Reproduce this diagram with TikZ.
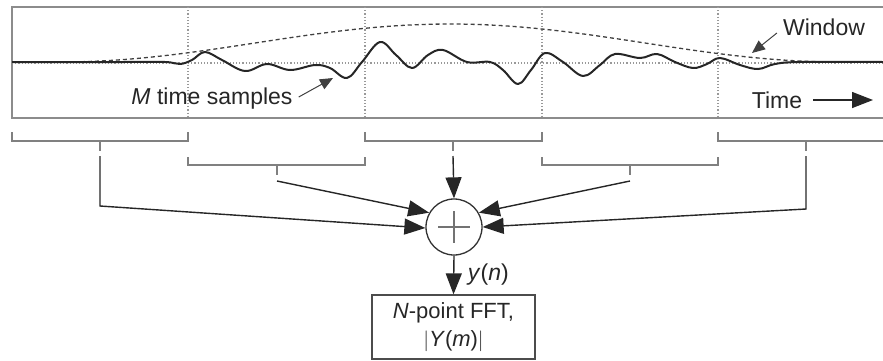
\documentclass[tikz,border=0pt]{standalone}
\usepackage{fontspec}
\setmainfont{Liberation Sans}
\usetikzlibrary{arrows.meta,positioning,calc}

\begin{document}
\begin{tikzpicture}[
    x=1pt, y=-1pt,
    % --- Line styles ---
    frame/.style={draw=black!45, line width=1.6pt},
    guide/.style={draw=black!40, dotted, line width=1.2pt},
    bracket/.style={draw=black!50, line width=1.5pt},
    signal/.style={draw=black!85, line width=2pt, line join=round},
    window/.style={draw=black!75, dash pattern=on 4pt off 3pt, line width=1.3pt},
    % --- Arrow styles ---
    arr/.style={-{Triangle[length=21pt, width=16pt]}, line width=1.4pt, draw=black!85},
    pointer/.style={-{Triangle[length=13pt, width=11pt]}, line width=1pt, draw=black!75},
    % --- Node styles ---
    summer/.style={draw=black!80, circle, line width=1.3pt, minimum size=56pt, inner sep=0pt},
    fftbox/.style={draw=black!70, line width=1.3pt, minimum width=163pt, minimum height=64pt,
                   align=center, inner sep=0pt, font=\fontsize{22}{28}\selectfont, text=black!85},
    label/.style={font=\fontsize{23}{25}\selectfont, inner sep=0pt, text=black!85},
]
\useasboundingbox (0,0) rectangle (883,360);

% === Time record with the window ===
\draw[frame] (12,7) rectangle (895,118);
\draw[guide] (12,63) -- (883,63);
\foreach \x in {188,365,542,718}
  \draw[guide] (\x,7) -- (\x,118);

% Hanning-like window
\draw[window] plot[domain=60:840, samples=70] (\x, {62-38*sin(0.23077*(\x-60))^2});

% Time samples
\draw[signal] plot[smooth, tension=0.6] coordinates {
  (12,62) (60,62) (120,62) (165,62) (180,64) (192,60) (205,52) (222,60)
  (245,71) (267,64) (290,70) (315,65) (330,68) (347,78) (362,62) (380,42)
  (396,55) (412,68) (428,55) (443,50) (467,62) (490,62) (503,70) (518,84)
  (531,70) (545,53) (563,62) (583,76) (600,65) (615,54) (640,58) (657,54)
  (675,62) (693,68) (707,64) (720,58) (740,65) (758,69) (775,64) (800,62)
  (883,62)};

% --- Annotations ---
\node[label] (msamp) at (212,99) {\textit{M} time samples};
\coordinate (msamptip) at (333,78);
\draw[pointer] (msamp.east) ++(6,-2) -- (msamptip);

\node[label] (win) at (824,27) {Window};
\coordinate (wintip) at (752,53);
\draw[pointer] (win.west) ++(-6,6) -- (wintip);

\node[label] (time) at (777,100) {Time};
\coordinate (timetip) at (873,100);
\draw[arr] (time.east) ++(11,0) -- (timetip);

% === Overlapping segments ===
\foreach \a/\b/\m/\n in {12/188/100/1, 365/542/453/3, 718/895/806/5} {
  \draw[bracket] (\a,132) -- (\a,141) -- (\b,141) -- (\b,132);
  \draw[bracket] (\m,141) -- (\m,151);
  \coordinate (tap\n) at (\m,156);
}
\foreach \a/\b/\m/\n in {188/365/277/2, 542/718/630/4} {
  \draw[bracket] (\a,157) -- (\a,165) -- (\b,165) -- (\b,157);
  \draw[bracket] (\m,165) -- (\m,175);
  \coordinate (tap\n) at (\m,181);
}

% === Summation and FFT ===
\node[summer] (sum) at (454,227) {};
\draw[black!55, line width=1.2pt] (sum.center) ++(-16,0) -- ++(32,0)
                                  (sum.center) ++(0,-16) -- ++(0,32);

\coordinate (bend1) at (100,206);
\coordinate (bend5) at (806,209);
\draw[arr] (tap1) -- (bend1) -- (sum.182);
\draw[arr] (tap2) -- (sum.150);
\draw[arr] (tap3) -- (sum.north);
\draw[arr] (tap4) -- (sum.30);
\draw[arr] (tap5) -- (bend5) -- (sum.0);

\node[fftbox] (fft) at (453.5,327) {\textit{N}-point FFT,\\$|$\textit{Y}(\textit{m})$|$};
\draw[arr] (sum.south) -- (fft.north);
\node[label, right=14pt of $(sum.south)!0.5!(fft.north)$] (yn) {\textit{y}(\textit{n})};

\end{tikzpicture}
\end{document}
